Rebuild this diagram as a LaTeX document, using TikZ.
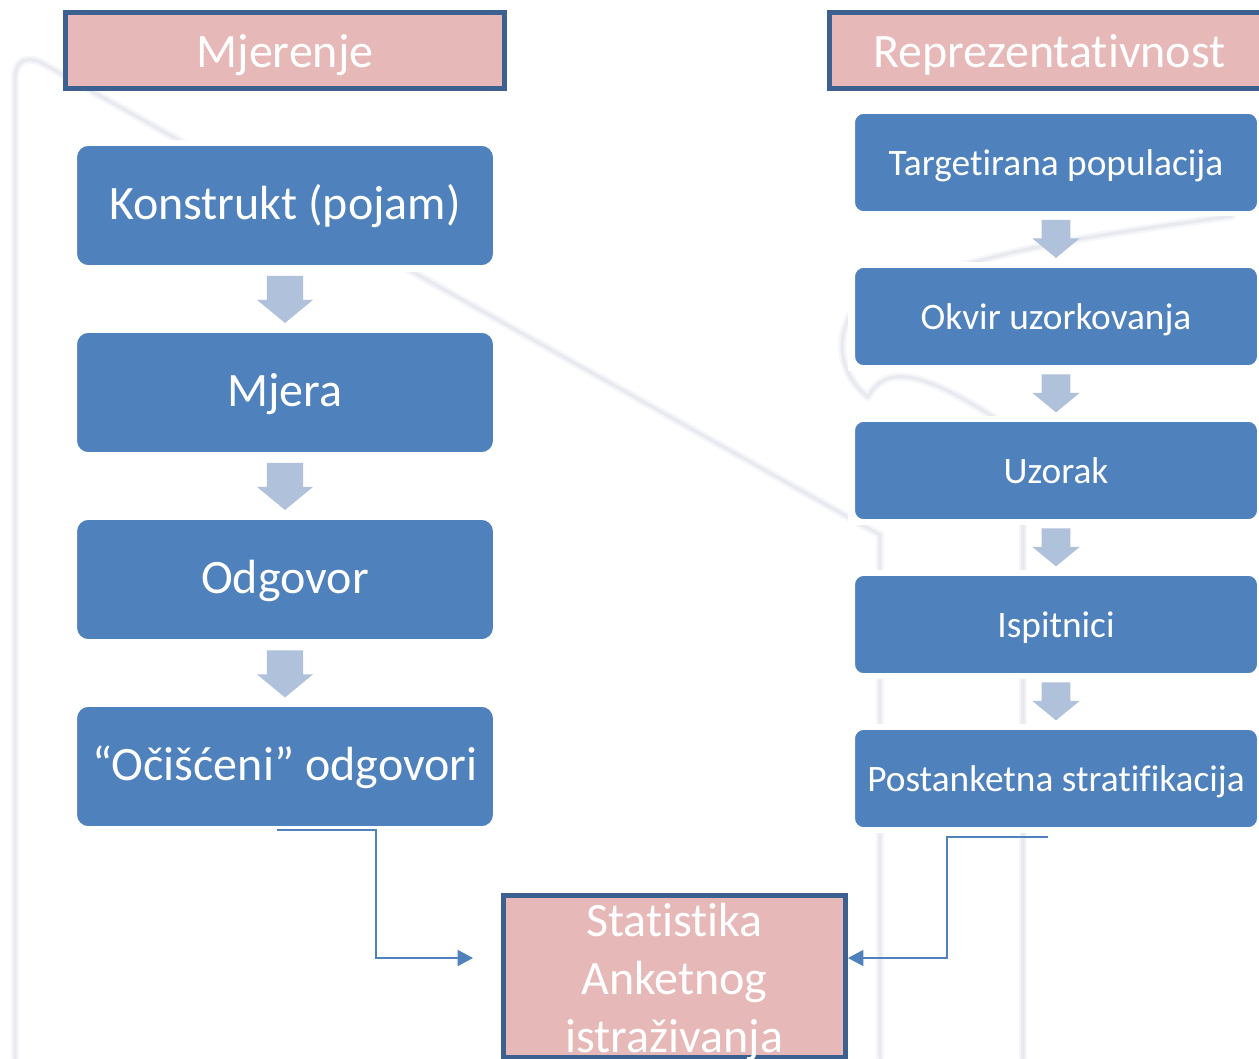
\documentclass[tikz,border=0pt]{standalone}
\usepackage{fontspec}
\setmainfont[Ligatures=NoCommon]{Carlito}
\usetikzlibrary{shapes.arrows,arrows.meta,positioning}
\definecolor{boxblue}{HTML}{4F81BD}
\definecolor{boxpink}{HTML}{E6B8B7}
\definecolor{pinkedge}{HTML}{3C6090}
\definecolor{arrowblue}{HTML}{B0C1DC}
\definecolor{markgray}{HTML}{E8EAF0}
\definecolor{markpale}{HTML}{F5F6F9}
\tikzset{
  x=0.75pt,y=-0.75pt,
  mark line/.style={preaction={draw=markpale,line width=6pt,line cap=round,line join=round},
    draw=markgray,line width=2.6pt,line cap=round,line join=round},
  leftbox/.style={rectangle,rounded corners=9pt,fill=boxblue,draw=white,line width=1pt,text=white,
    minimum width=313pt,minimum height=90.5pt,inner sep=0pt,text height=21.6pt,text depth=0pt,
    font=\fontsize{36}{40}\selectfont},
  rightbox/.style={rectangle,rounded corners=7pt,fill=boxblue,draw=white,line width=1pt,text=white,
    minimum width=302.5pt,minimum height=74pt,inner sep=0pt,text height=18.8pt,text depth=0pt,
    font=\fontsize{28}{32}\selectfont},
  headbox/.style={rectangle,fill=boxpink,draw=pinkedge,line width=3.75pt,text=white,
    inner sep=0pt,font=\fontsize{36}{40}\selectfont},
  headtext/.style={minimum width=329.25pt,minimum height=57pt,text height=26pt,text depth=0pt},
  leftarrow/.style={single arrow,draw=none,fill=arrowblue,rotate=-90,inner xsep=0pt,inner ysep=12.75pt,
    minimum width=42pt,minimum height=35.25pt,
    single arrow tip angle=101,single arrow head indent=0pt},
  rightarrow/.style={single arrow,draw=none,fill=arrowblue,rotate=-90,inner xsep=0pt,inner ysep=10.5pt,
    minimum width=34.5pt,minimum height=28.5pt,
    single arrow tip angle=101,single arrow head indent=0pt},
  link/.style={draw=boxblue,line width=1.2pt,-{Triangle[length=11.5pt,width=12pt]}},
}
\begin{document}
\begin{tikzpicture}
\useasboundingbox (0,0) rectangle (1259,1058);
\clip (0,0) rectangle (1259,1058);
\fill[white] (0,0) rectangle (1259,1058);
% faint watermark
\path[mark line] (15,1058) -- (15,78) .. controls (15,62) and (25,56) .. (40,62) -- (880,535) -- (880,1058);
\path[mark line] (1023,525) -- (1023,1058);
\path[mark line] (960,266) .. controls (1050,240) and (1150,228) .. (1232,216);
\path[mark line] (852,312) .. controls (835,340) and (840,375) .. (868,397)
  .. controls (885,365) and (920,370) .. (995,418);
% halos that cover the watermark
\fill[white] (68,140) rectangle (502,272);
\fill[white] (848,106) rectangle (1259,216);
\fill[white] (848,262) rectangle (1259,371);
\fill[white] (848,416) rectangle (1259,525);
\fill[white] (848,570) rectangle (1259,679);
\fill[white] (848,724) rectangle (1259,833);
% header boxes
\node[headbox,headtext] (mjerenje) at (285,50.5) {Mjerenje};
\node[headbox,headtext,anchor=west] (reprez) at (827,50.5) {\hspace{0.75pt}Reprezentativnost};
% left column
\node[leftbox] (konstrukt) at (285,205.5) {Konstrukt (pojam)};
\node[leftbox] (mjera) at (285,392.5) {Mjera};
\node[leftbox] (odgovor) at (285,579.5) {Odgovor};
\node[leftbox] (ocisceni) at (285,766.5) {“Očišćeni” odgovori};
\node[leftarrow] (la1) at (285,292) {};
\node[leftarrow] (la2) at (285,479) {};
\node[leftarrow] (la3) at (285,666.5) {};
% right column
\node[rightbox] (target) at (1056,162.5) {Targetirana populacija};
\node[rightbox] (okvir) at (1056,316.5) {Okvir uzorkovanja};
\node[rightbox] (uzorak) at (1056,470.5) {Uzorak};
\node[rightbox] (ispitnici) at (1056,624.5) {Ispitnici};
\node[rightbox] (postank) at (1056,778.5) {Postanketna stratifikacija};
\node[rightarrow] (ra1) at (1056,233) {};
\node[rightarrow] (ra2) at (1056,387.5) {};
\node[rightarrow] (ra3) at (1056,541.5) {};
\node[rightarrow] (ra4) at (1056,695.5) {};
% statistics box
\node[headbox,minimum width=256.5pt,minimum height=122pt] (stat) at (674.5,976.5)
  {\parbox[c][116pt][c]{240pt}{\fontsize{36}{43.5}\selectfont\centering\vspace*{7.5pt}Statistika\\Anketnog\\istraživanja}};
% connectors
\coordinate (leftstart) at (277,830);
\coordinate (leftend) at (473,958);
\coordinate (rightstart) at (1048,837);
\coordinate (rightend) at (848,958);
\draw[link] (leftstart) -- (376,830) -- (376,958) -- (leftend);
\draw[link] (rightstart) -- (947,837) -- (947,958) -- (rightend);
\end{tikzpicture}
\end{document}
